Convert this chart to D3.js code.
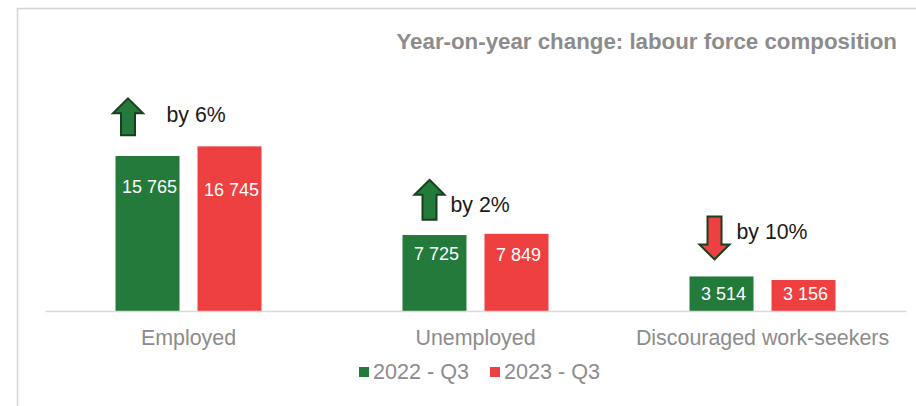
<!DOCTYPE html>
<html>
<head>
<meta charset="utf-8">
<script src="https://cdn.jsdelivr.net/npm/d3@7"></script>
<style>
  html, body { margin: 0; padding: 0; background: #ffffff; }
  svg { display: block; font-family: "Liberation Sans", Arial, sans-serif; }
</style>
</head>
<body>
<svg id="chart" width="916" height="406"></svg>
<script>
// Labour force composition, third quarter of each year (thousands)
const categories = ["Employed", "Unemployed", "Discouraged work-seekers"];
const seriesNames = ["2022 - Q3", "2023 - Q3"];
const values2022 = [15765, 7725, 3514];
const values2023 = [16745, 7849, 3156];
const changeLabels = ["by 6%", "by 2%", "by 10%"];
const changeDirection = ["up", "up", "down"];
const chartTitle = "Year-on-year change: labour force composition";

// Styling and layout
const colors = ["#237a3b", "#ee4040"];
const arrowStroke = "#1a3f1f";
const textGrey = "#8c8c8c";
const W = 916, H = 406;
const baseY = 311, topY = 134;
// annotation placement relative to each group's centre and tallest bar
const arrowDx = [-60.5, -46, -48];
const arrowGap = [11, 14, 17];
const arrowH = [37, 40, 43];
const textDx = [-22, -25, -26];
const textDy = [24, 22, 37];
const labelDy = [[37, 50], [25, 27], [24, 20]];

const svg = d3.select("#chart");

// outer frame (left and top edges)
svg.append("path")
  .attr("d", `M17.5,${H} V8.5 H${W}`)
  .attr("fill", "none")
  .attr("stroke", "#d4d4d4")
  .attr("stroke-width", 1.5);

svg.append("text")
  .attr("x", 897).attr("y", 49)
  .attr("text-anchor", "end")
  .attr("font-size", 22.3).attr("font-weight", "bold")
  .attr("fill", textGrey)
  .text(chartTitle);

const x0 = d3.scaleBand().domain(categories).range([45, 906]).padding(0);
const x1 = d3.scaleBand().domain(seriesNames).range([0, 146]).paddingInner(0.2195).paddingOuter(0);
const y = d3.scaleLinear().domain([0, 18000]).range([baseY, topY]);

const rows = categories.map((c, i) => ({
  category: c, i,
  values: [values2022[i], values2023[i]]
}));

const groups = svg.append("g").selectAll("g")
  .data(rows).join("g")
  .attr("transform", d => `translate(${x0(d.category) + x0.bandwidth() / 2 - 73},0)`);

groups.selectAll("rect")
  .data(d => d.values.map((v, k) => ({ v, k, i: d.i })))
  .join("rect")
  .attr("x", d => x1(seriesNames[d.k]))
  .attr("y", d => y(d.v))
  .attr("width", x1.bandwidth())
  .attr("height", d => y(0) - y(d.v))
  .attr("fill", d => colors[d.k]);

const fmt = v => d3.format(",")(v).replace(/,/g, " ");
groups.selectAll("text.val")
  .data(d => d.values.map((v, k) => ({ v, k, i: d.i })))
  .join("text")
  .attr("class", "val")
  .attr("x", d => x1(seriesNames[d.k]) + x1.bandwidth() / 2 + 2)
  .attr("y", d => y(d.v) + labelDy[d.i][d.k])
  .attr("text-anchor", "middle")
  .attr("font-size", 18)
  .attr("fill", "#ffffff")
  .text(d => fmt(d.v));

// category axis
const axis = svg.append("g").attr("transform", `translate(0,${baseY})`)
  .call(d3.axisBottom(x0).tickSize(0).tickPadding(0));
axis.select(".domain").attr("stroke", "#d9d9d9").attr("stroke-width", 1.5);
axis.selectAll(".tick text")
  .attr("font-family", "Liberation Sans, Arial, sans-serif")
  .attr("font-size", 21.4).attr("fill", textGrey)
  .attr("dy", 0).attr("y", 34);

// change annotations: arrow plus text above each group
function arrowPath(cx, yTop, yBot, dir) {
  const hw = 15, sw = 7, hh = 15;
  if (dir === "up") {
    return `M${cx},${yTop} L${cx + hw},${yTop + hh} L${cx + sw},${yTop + hh} L${cx + sw},${yBot} ` +
           `L${cx - sw},${yBot} L${cx - sw},${yTop + hh} L${cx - hw},${yTop + hh} Z`;
  }
  return `M${cx},${yBot} L${cx + hw},${yBot - hh} L${cx + sw},${yBot - hh} L${cx + sw},${yTop} ` +
         `L${cx - sw},${yTop} L${cx - sw},${yBot - hh} L${cx - hw},${yBot - hh} Z`;
}

rows.forEach(d => {
  const cx = x0(d.category) + x0.bandwidth() / 2;
  const topVal = y(d3.max(d.values));
  const yBot = topVal - arrowGap[d.i], yTop = yBot - arrowH[d.i];
  const dir = changeDirection[d.i];
  svg.append("path")
    .attr("d", arrowPath(cx + arrowDx[d.i], yTop, yBot, dir))
    .attr("fill", dir === "up" ? colors[0] : colors[1])
    .attr("stroke", arrowStroke)
    .attr("stroke-width", 2)
    .attr("stroke-linejoin", "miter");
  svg.append("text")
    .attr("x", cx + textDx[d.i])
    .attr("y", topVal - textDy[d.i])
    .attr("font-size", 21.3)
    .attr("fill", "#1a1a1a")
    .text(changeLabels[d.i]);
});

// legend
const legend = svg.append("g").attr("transform", "translate(359,367)");
const legendX = [0, 131];
seriesNames.forEach((s, k) => {
  legend.append("rect").attr("x", legendX[k]).attr("y", 0)
    .attr("width", 10).attr("height", 10).attr("fill", colors[k]);
  legend.append("text").attr("x", legendX[k] + 14).attr("y", 12)
    .attr("font-size", 21.6).attr("fill", textGrey).text(s);
});
</script>
</body>
</html>
